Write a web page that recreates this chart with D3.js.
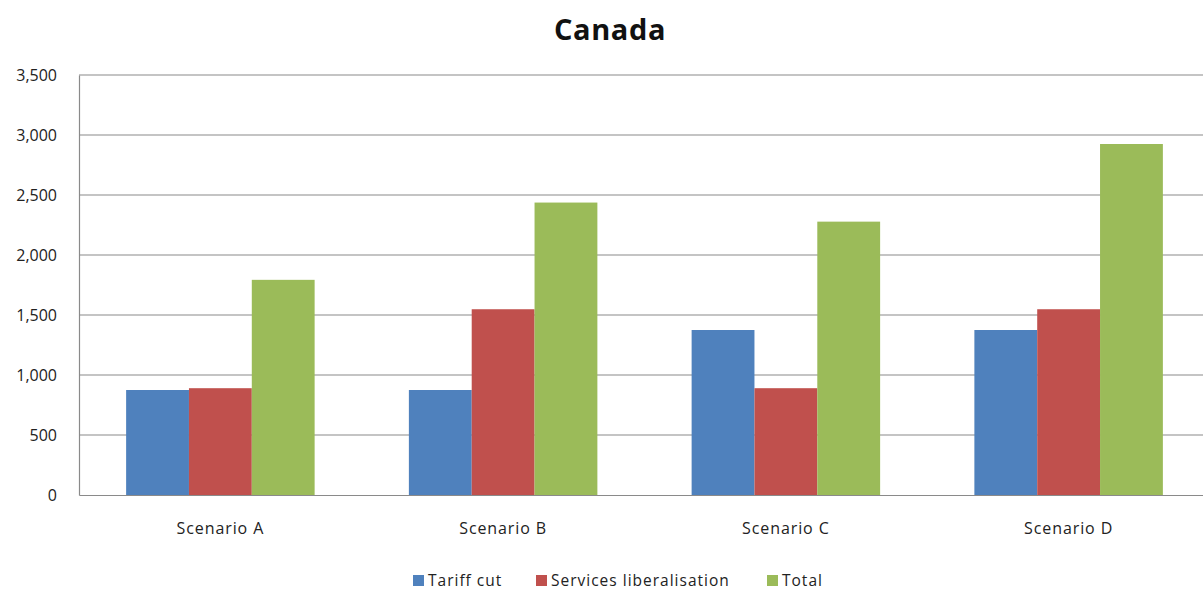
<!DOCTYPE html>
<html><head><meta charset="utf-8">
<script src="https://cdn.jsdelivr.net/npm/d3@7"></script>
<style>html,body{margin:0;padding:0;background:#fff;overflow:hidden}</style>
</head><body>
<svg id="c" width="1203" height="592"></svg>
<script>
const categories = ["Scenario A", "Scenario B", "Scenario C", "Scenario D"];
const seriesNames = ["Tariff cut", "Services liberalisation", "Total"];
const tariffCut = [875, 875, 1375, 1375];
const servicesLib = [890, 1548, 890, 1548];
const total = [1793, 2437, 2278, 2925];
const yTicks = [0, 500, 1000, 1500, 2000, 2500, 3000, 3500];
const colors = ["#4F81BD", "#C0504D", "#9BBB59"];

const seriesValues = [tariffCut, servicesLib, total];
const svg = d3.select("#c");
const font = "'Open Sans', sans-serif";

const x0 = d3.scaleBand().domain(categories).range([79, 1210]).paddingInner(0).paddingOuter(0);
const x1 = d3.scaleBand().domain(seriesNames).range([0, x0.bandwidth()]).paddingOuter(0.75).paddingInner(0);
const y = d3.scaleLinear().domain([0, 3500]).range([495, 75]);

// gridlines
svg.append("g").selectAll("line").data(yTicks.filter(d => d > 0)).join("line")
  .attr("x1", 79).attr("x2", 1203)
  .attr("y1", d => y(d)).attr("y2", d => y(d))
  .attr("stroke", "#8a8a8a").attr("stroke-width", 1.2);

// bars
const rows = [];
categories.forEach((c, i) => seriesNames.forEach((s, j) => rows.push({c, s, j, v: seriesValues[j][i]})));
svg.append("g").selectAll("rect").data(rows).join("rect")
  .attr("x", d => x0(d.c) + x1(d.s))
  .attr("width", x1.bandwidth())
  .attr("y", d => y(d.v))
  .attr("height", d => y(0) - y(d.v))
  .attr("fill", d => colors[d.j]);

// axes
const yAxis = d3.axisLeft(y).tickValues(yTicks).tickSize(0).tickPadding(22).tickFormat(d3.format(","));
const gy = svg.append("g").attr("transform", "translate(79,0)").call(yAxis);
gy.select(".domain").attr("stroke", "#8a8a8a").attr("stroke-width", 1.2);
gy.selectAll("text").attr("font-family", font).attr("font-size", 16).attr("fill", "#222");

const xAxis = d3.axisBottom(x0).tickSize(0).tickPadding(28);
const gx = svg.append("g").attr("transform", "translate(0,495)").call(xAxis);
gx.select(".domain").attr("stroke", "#8a8a8a").attr("stroke-width", 1.2);
gx.selectAll("text").attr("font-family", font).attr("font-size", 16).attr("letter-spacing", 0.9).attr("fill", "#222");

// title
svg.append("text").attr("x", 610).attr("y", 40).attr("text-anchor", "middle")
  .attr("font-family", font).attr("font-weight", "bold").attr("font-size", 29).attr("letter-spacing", 0.6).attr("fill", "#111").text("Canada");

// legend
const legendX = [413, 536, 767];
const lg = svg.append("g").selectAll("g").data(seriesNames).join("g")
  .attr("transform", (d, i) => `translate(${legendX[i]},575)`);
lg.append("rect").attr("width", 11).attr("height", 11).attr("fill", (d, i) => colors[i]);
lg.append("text").attr("x", 15).attr("y", 11).attr("font-family", font).attr("font-size", 15.5).attr("letter-spacing", 1).attr("fill", "#222").text(d => d);
</script>
</body></html>
